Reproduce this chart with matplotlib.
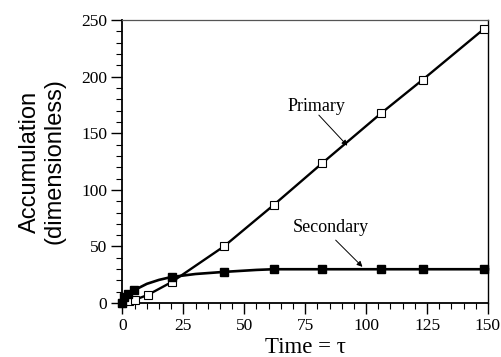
import numpy as np
import matplotlib.pyplot as plt
from matplotlib.ticker import MultipleLocator

# primary accumulation (open squares)
t_primary = [0, 2.7, 5.1, 10.3, 20.2, 41.6, 62.2, 82.0, 106.3, 123.3, 148.2]
y_primary = [0, 1.5, 3.0, 7.1, 18.6, 50.0, 86.9, 123.6, 167.9, 197.4, 241.8]

# secondary accumulation (filled squares)
t_secondary = [0, 0.5, 2.3, 4.8, 20.2, 41.6, 62.2, 82.0, 106.3, 123.3, 148.2]
y_secondary = [0, 5.0, 8.3, 11.3, 23.0, 27.5, 29.9, 29.9, 29.9, 29.9, 29.9]

# smooth curve through the secondary points
t_sec_curve = [0, 0.5, 2.5, 5, 10, 15, 20, 30, 42, 55, 62, 150]
y_sec_curve = [0, 5.0, 8.6, 11.6, 17.0, 20.5, 23.0, 25.7, 27.6, 29.3, 29.9, 29.9]

xticks = [0, 25, 50, 75, 100, 125, 150]
yticks = [0, 50, 100, 150, 200, 250]

serif = 'Liberation Serif'

fig = plt.figure(figsize=(5.02, 3.57), dpi=100)
ax = fig.add_axes([0.244, 0.151, 0.728, 0.793])

ax.plot(t_primary, y_primary, color='black', linewidth=1.7, marker='s',
        markersize=6, markerfacecolor='white', markeredgecolor='black',
        markeredgewidth=0.8, clip_on=False, zorder=3)
ax.plot(t_sec_curve, y_sec_curve, color='black', linewidth=1.9, zorder=2,
        clip_on=False)
ax.plot(t_secondary, y_secondary, linestyle='none', marker='s',
        markersize=6, markerfacecolor='black', markeredgecolor='black',
        clip_on=False, zorder=4)

# curve labels with thin pointer arrows
ax.text(79.6, 173.8, 'Primary', ha='center', va='center', fontsize=13,
        family=serif)
ax.annotate('', xy=(92.3, 139.0), xytext=(80.6, 166.0),
            arrowprops=dict(arrowstyle='-|>', color='black', lw=0.7,
                            mutation_scale=8, shrinkA=0, shrinkB=0))
ax.text(85.7, 66.7, 'Secondary', ha='center', va='center', fontsize=13,
        family=serif)
ax.annotate('', xy=(98.5, 32.0), xytext=(87.5, 55.6),
            arrowprops=dict(arrowstyle='-|>', color='black', lw=0.7,
                            mutation_scale=8, shrinkA=0, shrinkB=0))

ax.set_xlim(0, 150)
ax.set_ylim(0, 250)
ax.set_xticks(xticks)
ax.set_yticks(yticks)
ax.xaxis.set_minor_locator(MultipleLocator(5))
ax.yaxis.set_minor_locator(MultipleLocator(10))
ax.tick_params(which='major', direction='out', length=8, width=1,
               labelsize=12.5, pad=3)
ax.tick_params(which='minor', direction='out', length=4.5, width=0.8)
for label in ax.get_xticklabels() + ax.get_yticklabels():
    label.set_family(serif)

ax.set_xlabel('Time = τ', fontsize=16.5, family=serif, labelpad=2)
ax.set_ylabel('Accumulation\n(dimensionless)', fontsize=17,
              family='Liberation Sans', labelpad=11, linespacing=1.2)

for side in ['left', 'bottom']:
    ax.spines[side].set_linewidth(1.3)
ax.spines['right'].set_linewidth(1.0)
ax.spines['top'].set_linewidth(0.9)
ax.spines['top'].set_color('#555555')

fig.savefig('out.png', dpi=100)
